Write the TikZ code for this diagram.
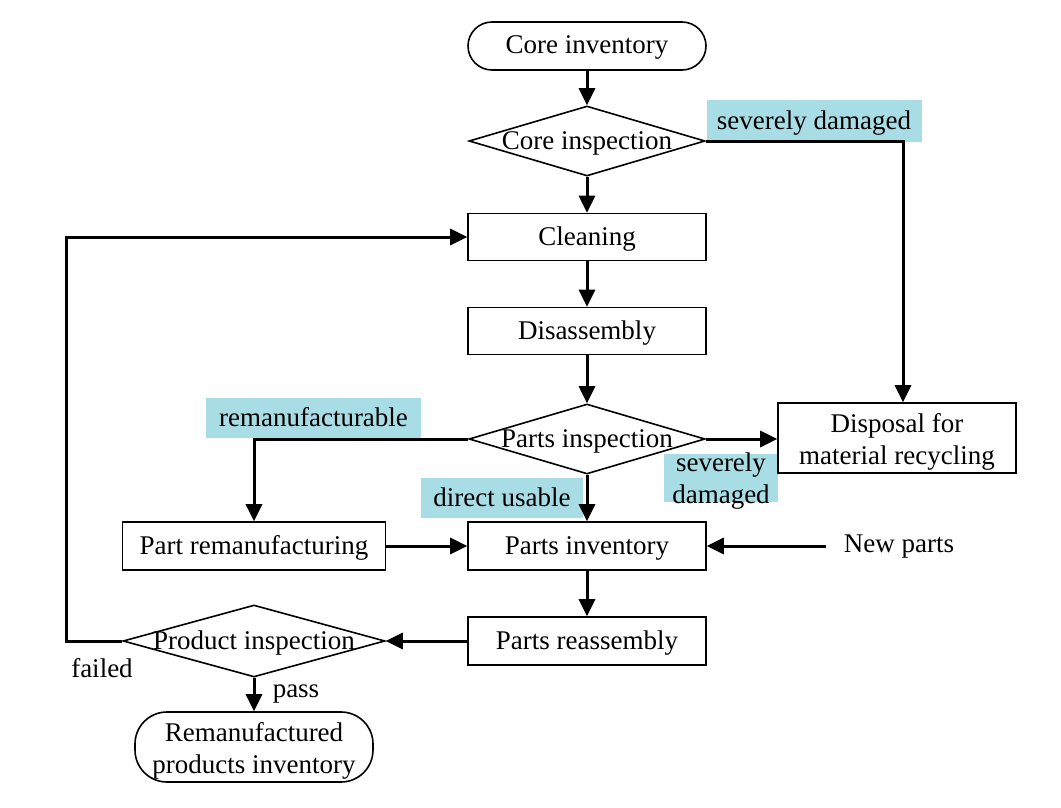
\documentclass[tikz,border=0pt]{standalone}
\usepackage{fontspec}
\setmainfont{Liberation Serif}
\usetikzlibrary{arrows.meta,shapes.geometric}
\definecolor{lab}{RGB}{169,221,229}
\begin{document}
\begin{tikzpicture}[x=1pt,y=-1pt,
  every node/.style={font=\fontsize{27}{32}\selectfont, inner sep=0pt},
  tx/.style={text height=19pt, text depth=3pt},
  box/.style={draw, line width=1.6pt, minimum width=238, minimum height=48, tx},
  term/.style={draw, line width=1.6pt, rounded corners=24, minimum width=238, minimum height=48, tx},
  dia/.style={draw, diamond, line width=1.6pt},
  lbl/.style={fill=lab},
  conn/.style={line width=3pt, -{Triangle[length=17pt,width=16pt]}}]
\useasboundingbox (0,0) rectangle (1061,808);
% labels (background)
\node[lbl, tx, minimum width=215, minimum height=41] (l1) at (814,121) {severely damaged};
\node[lbl, tx, minimum width=215, minimum height=40] (l2) at (313.5,418) {remanufacturable};
\node[lbl, tx, minimum width=162, minimum height=40] (l3) at (502,498) {direct usable};
\node[lbl, minimum width=114, minimum height=48] (l4) at (721,478) {};
\node[align=center] (l4txt) at ([yshift=-3pt]l4.center) {severely\\damaged};
% nodes
\node[term] (coreinv) at (587,46) {Core inventory};
\node[dia, minimum width=236, minimum height=70] (coreinsp) at (587,141) {};
\node[tx] (coreinsptxt) at (coreinsp) {Core inspection};
\node[box, minimum height=47] (clean) at (587,237) {Cleaning};
\node[box, minimum height=47] (disasm) at (587,331) {Disassembly};
\node[dia, minimum width=236, minimum height=70] (partsinsp) at (587,439) {};
\node[tx] (partsinsptxt) at (partsinsp) {Parts inspection};
\node[draw, line width=1.6pt, minimum width=238, minimum height=70] (disposal) at (897,438) {};
\node[align=center] (disposaltxt) at ([yshift=-4pt]disposal.center) {Disposal for\\material recycling};
\node[box] (partsinv) at (587,546) {Parts inventory};
\node[box, minimum width=263] (partrem) at (254,546) {Part remanufacturing};
\node (newparts) at (899,547) {New parts};
\coordinate (np) at (826,546);
\node[box] (reasm) at (587,641) {Parts reassembly};
\node[dia, minimum width=262, minimum height=72] (prodinsp) at (254,641) {};
\node[tx] (prodinsptxt) at (prodinsp) {Product inspection};
\node[draw, line width=1.6pt, rounded corners=32, minimum width=238, minimum height=70] (reman) at (254,747) {};
\node[align=center] (remantxt) at ([yshift=-4pt]reman.center) {Remanufactured\\products inventory};
\node (failed) at (102,668) {failed};
\node (pass) at (296,694) {pass};
\coordinate (fl) at (66,641);
% connectors
\draw[conn] (coreinv.south) -- (coreinsp.north);
\draw[conn] (coreinsp.south) -- (clean.north);
\draw[conn] (coreinsp.east) -| ([xshift=6pt]disposal.north);
\draw[conn] (clean.south) -- (disasm.north);
\draw[conn] (disasm.south) -- (partsinsp.north);
\draw[conn] (partsinsp.east) -- (partsinsp.east -| disposal.west);
\draw[conn] (partsinsp.west) -| (partrem.north);
\draw[conn] (partsinsp.south) -- (partsinv.north);
\draw[conn] (partrem.east) -- (partsinv.west);
\draw[conn] (np) -- (partsinv.east);
\draw[conn] (partsinv.south) -- (reasm.north);
\draw[conn] (reasm.west) -- (prodinsp.east);
\draw[conn] (prodinsp.west) -- (fl) |- (clean.west);
\draw[conn] (prodinsp.south) -- (reman.north);
\end{tikzpicture}
\end{document}
